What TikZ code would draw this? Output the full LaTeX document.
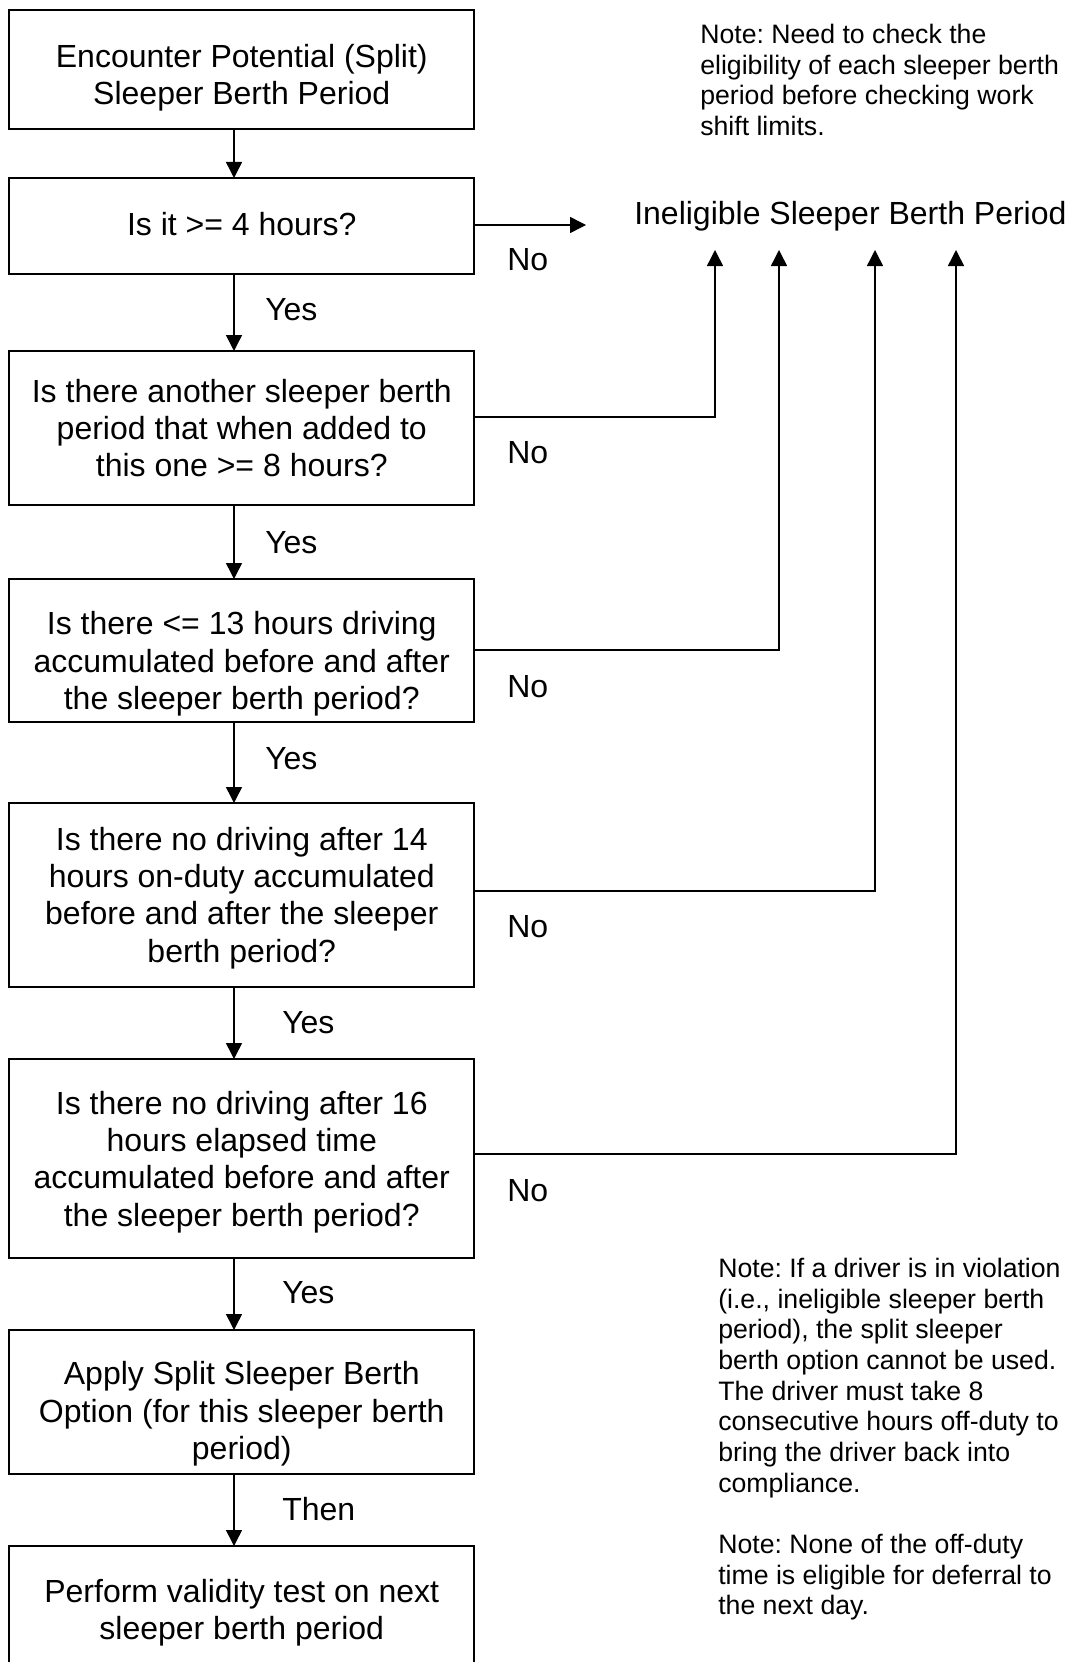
\documentclass[tikz,border=0pt]{standalone}
\usepackage{fontspec}
\setmainfont{Liberation Sans}
\usetikzlibrary{arrows.meta}
\frenchspacing
\begin{document}
\begin{tikzpicture}[x=0.75pt,y=-0.75pt,
  box/.style={draw, line width=1.5pt, minimum width=348.4pt, inner sep=0pt, outer sep=0pt},
  txt/.style={align=center, font=\fontsize{24}{28}\selectfont, inner sep=0pt},
  lbl/.style={font=\fontsize{24}{28}\selectfont, inner sep=0pt, anchor=west},
  note/.style={align=left, font=\fontsize{20}{23}\selectfont, inner sep=0pt, anchor=north west},
  arr/.style={line width=1.1pt, -{Triangle[width=12pt,length=12pt]}}
]
\useasboundingbox (0,0) rectangle (1073,1662);
\clip (0,0) rectangle (1073,1662);

% boxes
\node[box, minimum height=89.25pt]  (b1) at (241.75,69.5)  {};
\node[box, minimum height=72pt]     (b2) at (241.75,226)   {};
\node[box, minimum height=115.5pt]  (b3) at (241.75,428)   {};
\node[box, minimum height=107.25pt] (b4) at (241.75,650.5) {};
\node[box, minimum height=138pt]    (b5) at (241.75,895)   {};
\node[box, minimum height=149.25pt] (b6) at (241.75,1158.5){};
\node[box, minimum height=108pt]    (b7) at (241.75,1402)  {};
\node[box, minimum height=115.5pt]  (b8) at (241.75,1623)  {};

% box texts
\node[txt] (t1) at (241.75,78)   {Encounter Potential (Split)\\Sleeper Berth Period};
\node[txt] (t2) at (241.75,224)  {Is it >= 4 hours?};
\node[txt] (t3) at (241.75,428)  {Is there another sleeper berth\\period that when added to\\this one >= 8 hours?};
\node[txt] (t4) at (241.75,664)  {Is there <= 13 hours driving\\accumulated before and after\\the sleeper berth period?};
\node[txt] (t5) at (241.75,898)  {Is there no driving after 14\\hours on-duty accumulated\\before and after the sleeper\\berth period?};
\node[txt] (t6) at (241.75,1162) {Is there no driving after 16\\hours elapsed time\\accumulated before and after\\the sleeper berth period?};
\node[txt] (t7) at (241.75,1414) {Apply Split Sleeper Berth\\Option (for this sleeper berth\\period)};
\node[txt] (t8) at (241.75,1613) {Perform validity test on next\\sleeper berth period};

% ineligible target
\node[lbl, anchor=base west] (ine) at (634,224) {Ineligible Sleeper Berth Period};

% notes
\node[note] (n1) at (700,24) {Note: Need to check the\\eligibility of each sleeper berth\\period before checking work\\shift limits.};
\node[note] (n2) at (718,1258) {Note: If a driver is in violation\\(i.e., ineligible sleeper berth\\period), the split sleeper\\berth option cannot be used.\\The driver must take 8\\consecutive hours off-duty to\\bring the driver back into\\compliance.\\[23pt]Note: None of the off-duty\\time is eligible for deferral to\\the next day.};

% labels
\node[lbl] (y1) at (265,310)  {Yes};
\node[lbl] (y2) at (265,543)  {Yes};
\node[lbl] (y3) at (265,759)  {Yes};
\node[lbl] (y4) at (282,1023) {Yes};
\node[lbl] (y5) at (282,1293) {Yes};
\node[lbl] (th) at (282,1509) {Then};
\node[lbl] (no1) at (507,260)  {No};
\node[lbl] (no2) at (507,453)  {No};
\node[lbl] (no3) at (507,687)  {No};
\node[lbl] (no4) at (507,927)  {No};
\node[lbl] (no5) at (507,1191) {No};

% helper coordinates
\coordinate (ax) at (234,0);
\coordinate (r0) at (586,225);
\coordinate (u1) at (715,250);
\coordinate (u2) at (779,250);
\coordinate (u3) at (875,250);
\coordinate (u4) at (956,250);

% vertical flow
\draw[arr] (b1.south -| ax) -- (b2.north -| ax);
\draw[arr] (b2.south -| ax) -- (b3.north -| ax);
\draw[arr] (b3.south -| ax) -- (b4.north -| ax);
\draw[arr] (b4.south -| ax) -- (b5.north -| ax);
\draw[arr] (b5.south -| ax) -- (b6.north -| ax);
\draw[arr] (b6.south -| ax) -- (b7.north -| ax);
\draw[arr] (b7.south -| ax) -- (b8.north -| ax);

% No branches
\draw[arr] (b2.east |- r0) -- (r0);
\draw[arr] (b3.east |- 0,417) -| (u1);
\draw[arr] (b4.east |- 0,650) -| (u2);
\draw[arr] (b5.east |- 0,891) -| (u3);
\draw[arr] (b6.east |- 0,1154) -| (u4);
\end{tikzpicture}
\end{document}
